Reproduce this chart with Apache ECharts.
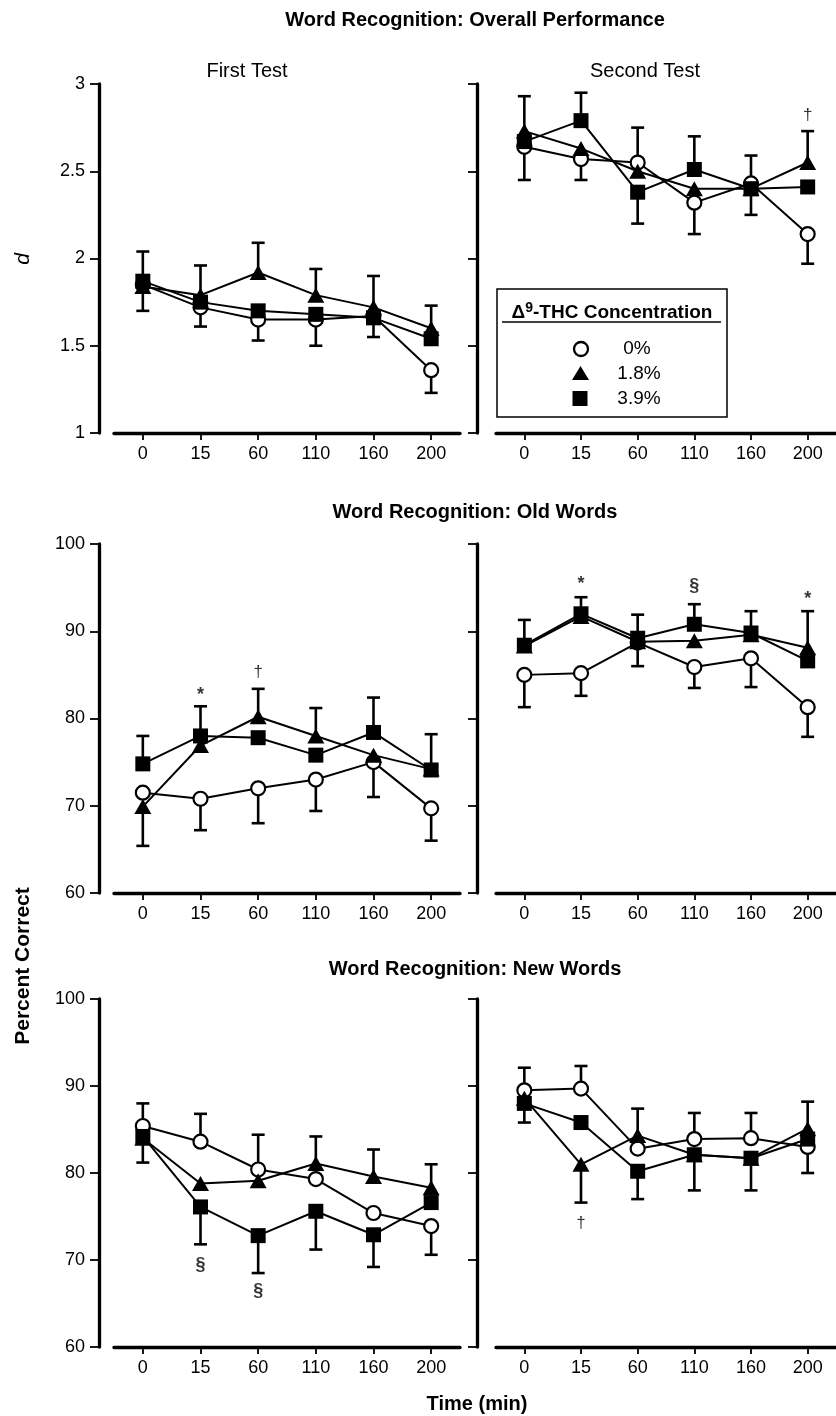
<!DOCTYPE html>
<html><head><meta charset="utf-8">
<script src="https://cdn.jsdelivr.net/npm/echarts@6/dist/echarts.min.js"></script>
<style>html,body{margin:0;padding:0;background:#fff}#c{width:836px;height:1416px}</style>
</head><body><div id="c"></div>
<script>
// ---------- DATA ----------
const times = ['0', '15', '60', '110', '160', '200'];
const groups = ['0%', '1.8%', '3.9%'];
const dTicks = [1, 1.5, 2, 2.5, 3];
const pctTicks = [60, 70, 80, 90, 100];

// Overall performance (d), first test
const overallFirst_0 = [1.85, 1.72, 1.65, 1.65, 1.67, 1.36];
const overallFirst_18 = [1.84, 1.79, 1.92, 1.79, 1.72, 1.60];
const overallFirst_39 = [1.87, 1.75, 1.70, 1.68, 1.66, 1.54];
const overallFirst_hi = [2.04, 1.96, 2.09, 1.94, 1.90, 1.73];
const overallFirst_lo = [1.70, 1.61, 1.53, 1.50, 1.55, 1.23];
// Overall performance (d), second test
const overallSecond_0 = [2.64, 2.57, 2.55, 2.32, 2.43, 2.14];
const overallSecond_18 = [2.73, 2.63, 2.50, 2.40, 2.40, 2.55];
const overallSecond_39 = [2.67, 2.79, 2.38, 2.51, 2.40, 2.41];
const overallSecond_hi = [2.93, 2.95, 2.75, 2.70, 2.59, 2.73];
const overallSecond_lo = [2.45, 2.45, 2.20, 2.14, 2.25, 1.97];
// Old words, first test
const oldFirst_0 = [71.5, 70.8, 72.0, 73.0, 75.0, 69.7];
const oldFirst_18 = [69.9, 76.9, 80.2, 78.0, 75.8, 74.2];
const oldFirst_39 = [74.8, 78.0, 77.8, 75.8, 78.4, 74.1];
const oldFirst_hi = [78.0, 81.4, 83.4, 81.2, 82.4, 78.2];
const oldFirst_lo = [65.4, 67.2, 68.0, 69.4, 71.0, 66.0];
// Old words, second test
const oldSecond_0 = [85.0, 85.2, 88.7, 85.9, 86.9, 81.3];
const oldSecond_18 = [88.3, 91.7, 88.8, 88.9, 89.6, 88.1];
const oldSecond_39 = [88.4, 92.0, 89.2, 90.8, 89.8, 86.6];
const oldSecond_hi = [91.3, 93.9, 91.9, 93.1, 92.3, 92.3];
const oldSecond_lo = [81.3, 82.6, 86.0, 83.5, 83.6, 77.9];
// New words, first test
const newFirst_0 = [85.4, 83.6, 80.4, 79.3, 75.4, 73.9];
const newFirst_18 = [84.0, 78.8, 79.1, 81.1, 79.6, 78.3];
const newFirst_39 = [84.2, 76.1, 72.8, 75.6, 72.9, 76.6];
const newFirst_hi = [88.0, 86.8, 84.4, 84.2, 82.7, 81.0];
const newFirst_lo = [81.2, 71.8, 68.5, 71.2, 69.2, 70.6];
// New words, second test
const newSecond_0 = [89.5, 89.7, 82.8, 83.9, 84.0, 83.0];
const newSecond_18 = [88.6, 81.0, 84.3, 82.1, 81.7, 85.1];
const newSecond_39 = [88.0, 85.8, 80.2, 82.1, 81.7, 83.9];
const newSecond_hi = [92.1, 92.3, 87.4, 86.9, 86.9, 88.2];
const newSecond_lo = [85.8, 76.6, 77.0, 78.0, 78.0, 80.0];

// significance marks: [time index, value, mark]
const overallSecond_marks = [[5, 2.82, '†']];
const oldFirst_marks = [[1, 82.7, '*'], [2, 85.3, '†']];
const oldSecond_marks = [[1, 95.4, '*'], [3, 95.2, '§'], [5, 93.7, '*']];
const newFirst_marks = [[1, 69.4, '§'], [2, 66.4, '§']];
const newSecond_marks = [[1, 74.2, '†']];

// ---------- BUILD ----------
const FONT = '"Liberation Sans", Arial, Helvetica, sans-serif';
const panels = [
  {vals: [overallFirst_0, overallFirst_18, overallFirst_39], hi: overallFirst_hi, lo: overallFirst_lo, marks: [], row: 0, col: 0},
  {vals: [overallSecond_0, overallSecond_18, overallSecond_39], hi: overallSecond_hi, lo: overallSecond_lo, marks: overallSecond_marks, row: 0, col: 1},
  {vals: [oldFirst_0, oldFirst_18, oldFirst_39], hi: oldFirst_hi, lo: oldFirst_lo, marks: oldFirst_marks, row: 1, col: 0},
  {vals: [oldSecond_0, oldSecond_18, oldSecond_39], hi: oldSecond_hi, lo: oldSecond_lo, marks: oldSecond_marks, row: 1, col: 1},
  {vals: [newFirst_0, newFirst_18, newFirst_39], hi: newFirst_hi, lo: newFirst_lo, marks: newFirst_marks, row: 2, col: 0},
  {vals: [newSecond_0, newSecond_18, newSecond_39], hi: newSecond_hi, lo: newSecond_lo, marks: newSecond_marks, row: 2, col: 1}
];
const rowTop = [84, 544, 999];
const rowH = [349, 349, 348];
const colLeft = [114, 496];
const colW = 346;
const yOffset = [15, 19];

const grid = [], xAxis = [], yAxis = [], series = [];
const symbols = [
  {symbol: 'circle', symbolSize: 14, itemStyle: {color: '#fff', borderColor: '#000', borderWidth: 2.2}},
  {symbol: 'triangle', symbolSize: [17, 15], itemStyle: {color: '#000', borderColor: '#000', borderWidth: 0}},
  {symbol: 'rect', symbolSize: 15, itemStyle: {color: '#000', borderColor: '#000', borderWidth: 0}}
];

panels.forEach((p, gi) => {
  grid.push({left: colLeft[p.col], top: rowTop[p.row], width: colW, height: rowH[p.row], containLabel: false});
  xAxis.push({
    type: 'category', gridIndex: gi, data: times, boundaryGap: true,
    axisLine: {show: true, lineStyle: {color: '#000', width: 3.3}},
    axisTick: {show: true, alignWithLabel: true, length: 7, lineStyle: {color: '#000', width: 1.8}},
    axisLabel: {show: true, color: '#000', fontSize: 18, fontFamily: FONT, margin: 12},
    splitLine: {show: false}
  });
  const isD = p.row === 0;
  const ticks = isD ? dTicks : pctTicks;
  yAxis.push({
    type: 'value', gridIndex: gi, min: ticks[0], max: ticks[ticks.length - 1],
    interval: ticks[1] - ticks[0], offset: yOffset[p.col],
    axisLine: {show: true, lineStyle: {color: '#000', width: 3.3}},
    axisTick: {show: true, length: 9, lineStyle: {color: '#000', width: 1.8}},
    axisLabel: {show: p.col === 0, color: '#000', fontSize: 18, fontFamily: FONT, margin: 14},
    splitLine: {show: false}
  });
  // error bars
  const ebData = times.map((t, i) => {
    const v = p.vals.map(a => a[i]);
    return [i, Math.max(...v), p.hi[i], Math.min(...v), p.lo[i]];
  });
  series.push({
    type: 'custom', xAxisIndex: gi, yAxisIndex: gi, z: 1, silent: true,
    renderItem: function (params, api) {
      const x = api.value(0);
      const a = api.coord([x, api.value(1)]);
      const b = api.coord([x, api.value(2)]);
      const c = api.coord([x, api.value(3)]);
      const d = api.coord([x, api.value(4)]);
      const w = 6.5;
      const st = {stroke: '#000', lineWidth: 2.6, fill: null};
      return {type: 'group', children: [
        {type: 'line', shape: {x1: a[0], y1: a[1], x2: b[0], y2: b[1]}, style: st},
        {type: 'line', shape: {x1: b[0] - w, y1: b[1], x2: b[0] + w, y2: b[1]}, style: st},
        {type: 'line', shape: {x1: c[0], y1: c[1], x2: d[0], y2: d[1]}, style: st},
        {type: 'line', shape: {x1: d[0] - w, y1: d[1], x2: d[0] + w, y2: d[1]}, style: st}
      ]};
    },
    encode: {x: 0, y: [1, 2, 3, 4]},
    data: ebData
  });
  p.vals.forEach((arr, si) => {
    series.push(Object.assign({
      type: 'line', name: groups[si], xAxisIndex: gi, yAxisIndex: gi, data: arr,
      showSymbol: true, showAllSymbol: true, z: 2 + si, silent: true, animation: false,
      lineStyle: {color: '#000', width: 2}
    }, symbols[si]));
  });
  if (p.marks.length) {
    series.push({
      type: 'scatter', xAxisIndex: gi, yAxisIndex: gi, symbolSize: 0, z: 10, silent: true,
      data: p.marks,
      label: {
        show: true, position: 'inside',
        formatter: q => (q.value[2] === '†' ? '{n|†}' : '{b|' + q.value[2] + '}'),
        rich: {
          n: {fontSize: 17, fontFamily: FONT, color: '#000', fontWeight: 'normal'},
          b: {fontSize: 18, fontFamily: FONT, color: '#000', fontWeight: 'bold'}
        }
      }
    });
  }
});

function txt(x, y, text, font, extra) {
  return Object.assign({
    type: 'text', x: x, y: y, silent: true,
    style: {text: text, font: font, fill: '#000', align: 'center', verticalAlign: 'middle',
            textAlign: 'center', textVerticalAlign: 'middle'}
  }, extra || {});
}

const graphic = [
  txt(475, 20, 'Word Recognition: Overall Performance', 'bold 20px ' + FONT),
  txt(247, 71, 'First Test', '20px ' + FONT),
  txt(645, 71, 'Second Test', '20px ' + FONT),
  txt(475, 512, 'Word Recognition: Old Words', 'bold 20px ' + FONT),
  txt(475, 969, 'Word Recognition: New Words', 'bold 20px ' + FONT),
  txt(477, 1404, 'Time (min)', 'bold 20px ' + FONT),
  txt(23, 259, 'd', 'italic 21px ' + FONT, {rotation: Math.PI / 2}),
  txt(23, 966, 'Percent Correct', 'bold 21px ' + FONT, {rotation: Math.PI / 2}),
  // legend
  {type: 'rect', silent: true, shape: {x: 497, y: 289, width: 230, height: 128},
   style: {fill: '#fff', stroke: '#000', lineWidth: 1.5}, z: 50},
  {type: 'text', x: 612, y: 313, silent: true, z: 51,
   style: {text: '{a|Δ}{s|9}{a|-THC Concentration}', align: 'center', verticalAlign: 'middle',
     textAlign: 'center', textVerticalAlign: 'middle',
     rich: {a: {font: 'bold 19px ' + FONT, fill: '#000', color: '#000'},
            s: {font: 'bold 14px ' + FONT, fill: '#000', color: '#000', padding: [0, 0, 9, 0]}}}},
  {type: 'line', silent: true, z: 51, shape: {x1: 502, y1: 322, x2: 721, y2: 322}, style: {stroke: '#000', lineWidth: 1.3}},
  {type: 'circle', silent: true, z: 51, shape: {cx: 581, cy: 349, r: 7}, style: {fill: '#fff', stroke: '#000', lineWidth: 2.3}},
  {type: 'polygon', silent: true, z: 51, shape: {points: [[572, 380], [589, 380], [580.5, 366]]}, style: {fill: '#000'}},
  {type: 'rect', silent: true, z: 51, shape: {x: 572.5, y: 391, width: 15, height: 15}, style: {fill: '#000'}},
  Object.assign(txt(637, 349, groups[0], '19px ' + FONT), {z: 51}),
  Object.assign(txt(639, 374, groups[1], '19px ' + FONT), {z: 51}),
  Object.assign(txt(639, 399, groups[2], '19px ' + FONT), {z: 51})
];

const chart = echarts.init(document.getElementById('c'), null, {renderer: 'canvas'});
chart.setOption({
  animation: false,
  backgroundColor: '#fff',
  textStyle: {fontFamily: FONT},
  grid: grid, xAxis: xAxis, yAxis: yAxis, series: series, graphic: graphic
});
</script></body></html>
